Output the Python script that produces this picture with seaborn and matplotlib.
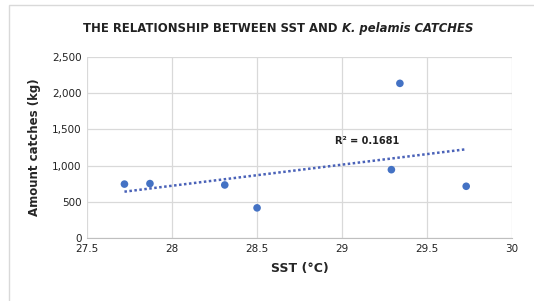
import numpy as np
import pandas as pd
import matplotlib
matplotlib.use("Agg")
import matplotlib.pyplot as plt
import seaborn as sns
from matplotlib.patches import Rectangle
from matplotlib.ticker import FuncFormatter

# data
sst = [27.72, 27.87, 28.31, 28.50, 29.29, 29.34, 29.73]
catches = [745, 752, 733, 417, 944, 2135, 715]
r2_label = "R² = 0.1681"

df = pd.DataFrame({"sst": sst, "catches": catches})

sns.set_style("whitegrid")
plt.rcParams["font.family"] = ["DejaVu Sans"]

fig = plt.figure(figsize=(5.34, 3.01), dpi=100)
ax = fig.add_axes([0.163, 0.209, 0.796, 0.602])

blue = "#4472C4"
sns.regplot(data=df, x="sst", y="catches", ax=ax, ci=None,
            scatter_kws={"s": 30, "color": blue, "edgecolor": "none", "alpha": 1},
            line_kws={"color": "#4a62b8", "linestyle": (0, (1, 1)), "linewidth": 1.8})

ax.set_xlim(27.5, 30)
ax.set_ylim(0, 2500)
ax.set_xticks([27.5, 28, 28.5, 29, 29.5, 30])
ax.set_xticklabels(["27.5", "28", "28.5", "29", "29.5", "30"])
ax.set_yticks([0, 500, 1000, 1500, 2000, 2500])
ax.yaxis.set_major_formatter(FuncFormatter(lambda v, p: f"{int(v):,}"))
ax.tick_params(axis="both", labelsize=7.5, colors="#222222", length=0, pad=4)

ax.grid(True, color="#d9d9d9", linewidth=0.9)
for side in ["top", "right", "left"]:
    ax.spines[side].set_visible(False)
ax.spines["bottom"].set_color("#bfbfbf")

ax.set_xlabel("SST (°C)", fontsize=9, fontweight="bold", labelpad=6)
ax.set_ylabel("Amount catches (kg)", fontsize=8.5, fontweight="bold", labelpad=8)

ax.text(28.96, 1345, r2_label, fontsize=7, fontweight="bold", color="#222222",
        ha="left", va="center")

# title in two parts: upright, then italic
title_a = "THE RELATIONSHIP BETWEEN SST AND "
title_b = "K. pelamis CATCHES"
t1 = fig.text(0, 0.905, title_a, fontsize=8.4, fontweight="bold", color="#222222", va="center")
t2 = fig.text(0, 0.905, title_b, fontsize=8.4, fontweight="bold", fontstyle="italic",
              color="#222222", va="center")
fig.canvas.draw()
r = fig.canvas.get_renderer()
w1 = t1.get_window_extent(r).width
w2 = t2.get_window_extent(r).width
W = fig.bbox.width
x0 = (278 - (w1 + w2) / 2) / W
t1.set_x(x0)
t2.set_x(x0 + w1 / W)

fig.patches.append(Rectangle((0.017, -0.01), 1.0, 0.993, transform=fig.transFigure,
                             fill=False, edgecolor="#d9d9d9", linewidth=1))

plt.savefig("out.png", dpi=100)
